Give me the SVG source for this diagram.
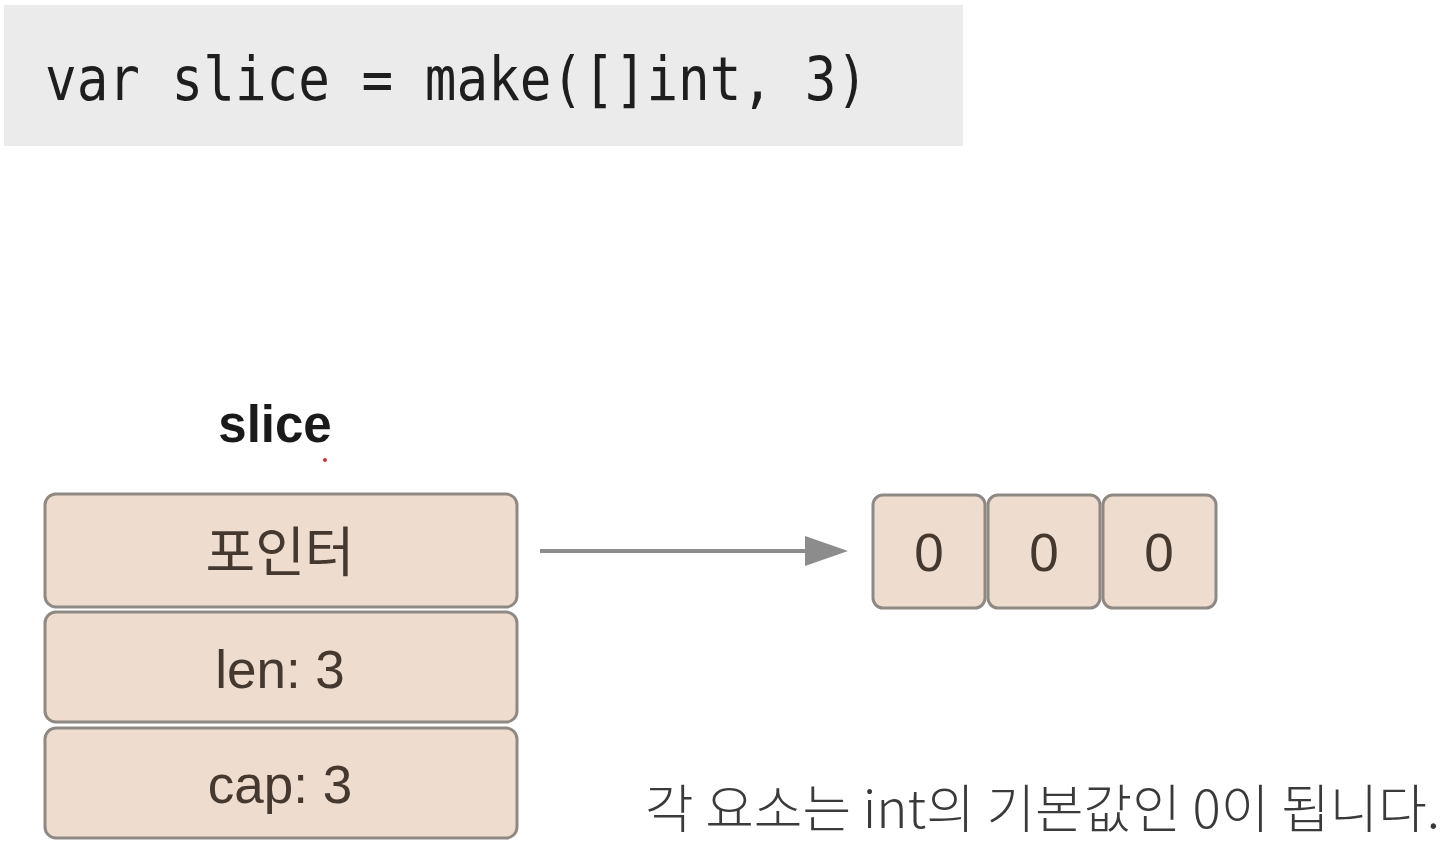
<svg xmlns="http://www.w3.org/2000/svg" width="1450" height="852" viewBox="0 0 1450 852">
<defs>
<style>
.box{fill:#eedcce;stroke:#8f8984;stroke-width:3}
.lbl{font-family:"Liberation Sans","Noto Sans CJK KR",sans-serif;font-size:53px;fill:#45382f;text-anchor:middle}
.kr{font-family:"Noto Sans CJK KR",sans-serif;font-weight:normal;font-size:54px}
</style>
</defs>
<rect width="1450" height="852" fill="#ffffff"/>
<g id="code">
<rect x="4" y="5" width="959" height="141" fill="#ebebeb"/>
<text x="45" y="100" font-family="DejaVu Sans Mono,monospace" font-size="61" fill="#1e1e1e" textLength="823" lengthAdjust="spacingAndGlyphs">var slice = make([]int, 3)</text>
</g>
<g id="slice-label">
<text x="275" y="442" font-family="Liberation Sans,Arial,sans-serif" font-weight="bold" font-size="51" fill="#1a1a1a" text-anchor="middle">slice</text>
<circle cx="325" cy="460" r="2" fill="#d03030"/>
</g>
<g id="slice-pointer">
<rect class="box" x="45" y="494" width="472" height="113" rx="11"/>
<text class="lbl kr" x="280" y="572">포인터</text>
</g>
<g id="slice-len">
<rect class="box" x="45" y="612" width="472" height="110" rx="11"/>
<text class="lbl" x="280" y="688">len: 3</text>
</g>
<g id="slice-cap">
<rect class="box" x="45" y="728" width="472" height="110" rx="11"/>
<text class="lbl" x="280" y="803">cap: 3</text>
</g>
<g id="connectors">
<line x1="540" y1="551" x2="808" y2="551" stroke="#8c8c8c" stroke-width="4"/>
<path d="M805,536 L848,551 L805,566 z" fill="#8c8c8c"/>
</g>
<g id="elem0">
<rect class="box" x="873" y="495" width="112" height="113" rx="10"/>
<text class="lbl" x="929" y="571">0</text>
</g>
<g id="elem1">
<rect class="box" x="988" y="495" width="112" height="113" rx="10"/>
<text class="lbl" x="1044" y="571">0</text>
</g>
<g id="elem2">
<rect class="box" x="1103" y="495" width="113" height="113" rx="10"/>
<text class="lbl" x="1159" y="571">0</text>
</g>
<g id="caption">
<text x="645" y="828" font-family="Noto Sans CJK KR,sans-serif" font-weight="300" font-size="52" fill="#3a3a3a" textLength="795" lengthAdjust="spacingAndGlyphs">각 요소는 int의 기본값인 0이 됩니다.</text>
</g>
</svg>
